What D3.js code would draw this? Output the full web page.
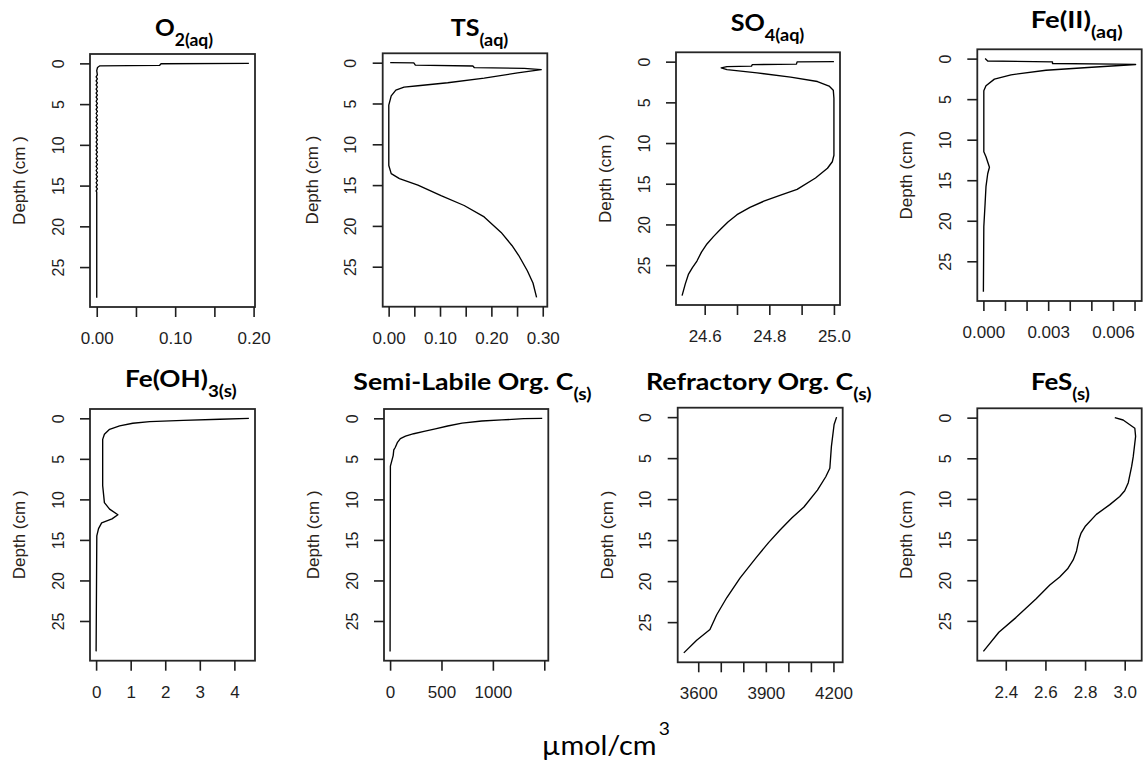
<!DOCTYPE html>
<html>
<head>
<meta charset="utf-8">
<script src="https://cdn.jsdelivr.net/npm/d3@7"></script>
<style>
body { margin: 0; background: #fff; }
svg { display: block; }
</style>
</head>
<body>
<div id="chart"></div>
<script>
// depth ticks shared by every panel
var depthTicks = [0, 5, 10, 15, 20, 25];

// O2 (aq) - the model output jitters around zero between 1.4 and 15.7 cm
var o2Depth = [0, 0.05, 0.25, 0.3, 0.5, 0.9,
  1.4, 1.65, 1.9, 2.15, 2.4, 2.65, 2.9, 3.15, 3.4, 3.65, 3.9, 4.15, 4.4, 4.65, 4.9, 5.15, 5.4, 5.65, 5.9, 6.15,
  6.4, 6.65, 6.9, 7.15, 7.4, 7.65, 7.9, 8.15, 8.4, 8.65, 8.9, 9.15, 9.4, 9.65, 9.9, 10.15, 10.4, 10.65, 10.9,
  11.15, 11.4, 11.65, 11.9, 12.15, 12.4, 12.65, 12.9, 13.15, 13.4, 13.65, 13.9, 14.15, 14.4, 14.65, 14.9, 15.15,
  15.4, 15.65, 15.8, 28.75];
var o2Conc = [0.194, 0.082, 0.080, 0.004, 0.001, 0,
  0.0008, -0.0008, 0.0008, -0.0008, 0.0008, -0.0008, 0.0008, -0.0008, 0.0008, -0.0008, 0.0008, -0.0008, 0.0008,
  -0.0008, 0.0008, -0.0008, 0.0008, -0.0008, 0.0008, -0.0008, 0.0008, -0.0008, 0.0008, -0.0008, 0.0008, -0.0008,
  0.0008, -0.0008, 0.0008, -0.0008, 0.0008, -0.0008, 0.0008, -0.0008, 0.0008, -0.0008, 0.0008, -0.0008, 0.0008,
  -0.0008, 0.0008, -0.0008, 0.0008, -0.0008, 0.0008, -0.0008, 0.0008, -0.0008, 0.0008, -0.0008, 0.0008, -0.0008,
  0.0008, -0.0008, 0.0008, -0.0008, 0.0008, -0.0008, 0, 0];
var o2Ticks = [0, 0.05, 0.1, 0.15, 0.2];
var o2Labels = [0, 0.1, 0.2];

// TS (aq)
var tsDepth = [0, 0.02, 0.29, 0.41, 0.61, 0.7, 0.85, 1.25, 1.9, 2.46, 2.83, 3.0, 3.36, 4.06, 5.2, 12.6, 13.6, 14.2,
  15.0, 16.3, 17.5, 18.9, 20.8, 22.4, 23.6, 25.5, 27.0, 28.75];
var tsConc = [0.003, 0.049, 0.052, 0.164, 0.167, 0.264, 0.297, 0.251, 0.186, 0.115, 0.057, 0.030, 0.014, 0.005, 0.0003,
  0.0003, 0.005, 0.021, 0.057, 0.102, 0.147, 0.186, 0.219, 0.240, 0.253, 0.270, 0.281, 0.288];
var tsTicks = [0, 0.05, 0.1, 0.15, 0.2, 0.25, 0.3];
var tsLabels = [0, 0.1, 0.2, 0.3];

// SO4 (aq)
var so4Depth = [0, 0.02, 0.3, 0.37, 0.55, 0.61, 0.77, 0.98, 1.38, 1.91, 2.44, 3.0, 3.5, 4.5, 11.5, 12.3, 13.1, 14.3,
  15.7, 16.4, 17.15, 17.9, 18.8, 19.7, 20.6, 21.5, 22.4, 23.4, 24.5, 25.3, 26.1, 27.3, 28.75];
var so4Conc = [25.0, 24.886, 24.884, 24.747, 24.745, 24.669, 24.651, 24.669, 24.762, 24.866, 24.949, 24.985, 24.998,
  25.0, 25.0, 24.995, 24.98, 24.943, 24.886, 24.835, 24.783, 24.740, 24.700, 24.672, 24.649, 24.627, 24.607, 24.590,
  24.576, 24.562, 24.550, 24.540, 24.530];
var so4Ticks = [24.6, 24.7, 24.8, 24.9, 25.0];
var so4Labels = [24.6, 24.8, 25.0];

// Fe(II) (aq)
var fe2Depth = [0, 0.29, 0.4, 0.6, 0.68, 0.72, 1.1, 1.43, 2.0, 2.53, 3.35, 3.96, 11.5, 12.1, 13.4, 14.2, 15.8, 17.85,
  20.7, 28.75];
var fe2Conc = [0.00008, 0.0002, 0.0032, 0.0032, 0.00615, 0.00705, 0.00484, 0.0029, 0.00128, 0.00051, 0.00012, 0.00002,
  0.00002, 0.00012, 0.00028, 0.0002, 0.00012, 0.00008, 0.00002, 0];
var fe2Ticks = [0, 0.001, 0.002, 0.003, 0.004, 0.005, 0.006, 0.007];
var fe2Labels = [0, 0.003, 0.006];

// Fe(OH)3 (s)
var feohDepth = [0, 0.12, 0.25, 0.41, 0.61, 0.94, 1.35, 1.97, 2.6, 8.3, 10.4, 11.2, 11.9, 12.4, 12.9, 13.6, 14.5, 28.75];
var feohConc = [4.42, 3.58, 2.52, 1.55, 1.06, 0.68, 0.39, 0.24, 0.19, 0.19, 0.24, 0.39, 0.63, 0.46, 0.16, 0.07, 0.02, 0];
var feohTicks = [0, 1, 2, 3, 4];
var feohLabels = [0, 1, 2, 3, 4];

// Semi-labile organic C (s)
var semiDepth = [0, 0.04, 0.2, 0.33, 0.6, 0.95, 1.3, 1.6, 1.9, 2.2, 2.5, 3.0, 3.6, 3.9, 4.6, 5.9, 28.75];
var semiConc = [1480, 1300, 1088, 892, 700, 560, 440, 330, 230, 150, 100, 70, 50, 36, 30, 3, 0];
var semiTicks = [0, 500, 1000, 1500];
var semiLabels = [0, 500, 1000];

// Refractory organic C (s)
var refDepth = [0, 0.9, 3.57, 6.24, 7.27, 8.9, 10.96, 12.3, 13.8, 15.3, 17.1, 19.6, 22.0, 24.1, 25.9, 27.2, 28.75];
var refConc = [4214, 4203, 4191, 4184, 4166, 4129, 4069, 4015, 3962, 3912, 3858, 3786, 3727, 3682, 3652, 3593, 3536];
var refTicks = [3600, 3700, 3800, 3900, 4000, 4100, 4200];
var refLabels = [3600, 3900, 4200];

// FeS (s)
var fesDepth = [0, 0.29, 1.3, 2.3, 4.8, 6.0, 8.0, 9.0, 9.7, 10.7, 11.9, 13.4, 14.2, 15.0, 16.4, 17.5, 18.6, 19.6, 20.6,
  22.3, 24.6, 26.4, 28.75];
var fesConc = [2.95, 2.992, 3.051, 3.055, 3.043, 3.035, 3.018, 3.0, 2.975, 2.925, 2.857, 2.8, 2.78, 2.769, 2.757, 2.740,
  2.712, 2.672, 2.622, 2.552, 2.451, 2.365, 2.287];
var fesTicks = [2.4, 2.6, 2.8, 3.0];
var fesLabels = [2.4, 2.6, 2.8, 3.0];

var titleMain = ["O", "TS", "SO", "Fe(II)", "Fe(OH)", "Semi-Labile Org. C", "Refractory Org. C", "FeS"];
var titleSub = ["2(aq)", "(aq)", "4(aq)", "(aq)", "3(s)", "(s)", "(s)", "(s)"];
var yLabel = "Depth (cm )";
var unitText = "\u00b5mol/cm";
var unitSup = "3";

var width = 1143;
var height = 761;

var panels = [
  {depth: o2Depth, conc: o2Conc, ticks: o2Ticks, labels: o2Labels, fmt: d3.format(".2f")},
  {depth: tsDepth, conc: tsConc, ticks: tsTicks, labels: tsLabels, fmt: d3.format(".2f")},
  {depth: so4Depth, conc: so4Conc, ticks: so4Ticks, labels: so4Labels, fmt: d3.format(".1f")},
  {depth: fe2Depth, conc: fe2Conc, ticks: fe2Ticks, labels: fe2Labels, fmt: d3.format(".3f")},
  {depth: feohDepth, conc: feohConc, ticks: feohTicks, labels: feohLabels, fmt: d3.format("d")},
  {depth: semiDepth, conc: semiConc, ticks: semiTicks, labels: semiLabels, fmt: d3.format("d")},
  {depth: refDepth, conc: refConc, ticks: refTicks, labels: refLabels, fmt: d3.format("d")},
  {depth: fesDepth, conc: fesConc, ticks: fesTicks, labels: fesLabels, fmt: d3.format(".1f")}
];

// plot boxes: left, top, width, height
var boxes = [
  [90, 54, 165, 253], [382.7, 53.3, 164.6, 253.4], [676, 52.3, 164, 252.7], [977.3, 49.3, 164.4, 251.7],
  [90, 409, 165, 251.7], [384, 409, 164.3, 251.7], [677.7, 407.7, 165, 254.6], [977.3, 408.3, 164.4, 252.4]
];
// titles: left, right, baseline
var titleBox = [
  [155, 213, 36], [450.7, 508.3, 36], [730.7, 804.3, 31], [1030.7, 1122.7, 28.3],
  [125, 236.7, 386.7], [353.3, 591.7, 390], [646, 871.7, 390], [1031, 1090, 390]
];

var svg = d3.select("#chart").append("svg")
  .attr("width", width)
  .attr("height", height);

function padded(a) {
  var e = d3.extent(a), r = e[1] - e[0];
  return [e[0] - 0.04 * r, e[1] + 0.04 * r];
}

panels.forEach(function(p, i) {
  var b = boxes[i];
  var x = d3.scaleLinear().domain(padded(p.conc)).range([b[0], b[0] + b[2]]);
  var y = d3.scaleLinear().domain(padded(p.depth)).range([b[1], b[1] + b[3]]);
  var g = svg.append("g");

  g.append("path")
    .datum(d3.zip(p.conc, p.depth))
    .attr("fill", "none")
    .attr("stroke", "#000")
    .attr("stroke-width", 1.35)
    .attr("stroke-linejoin", "round")
    .attr("d", d3.line().x(function(d) { return x(d[0]); }).y(function(d) { return y(d[1]); }));

  g.append("rect")
    .attr("x", b[0]).attr("y", b[1])
    .attr("width", b[2]).attr("height", b[3])
    .attr("fill", "none")
    .attr("stroke", "#262626")
    .attr("stroke-width", 1.8);

  var xa = g.append("g")
    .attr("transform", "translate(0," + (b[1] + b[3]) + ")")
    .call(d3.axisBottom(x)
      .tickValues(p.ticks)
      .tickSize(10)
      .tickPadding(15)
      .tickFormat(function(d) {
        return p.labels.some(function(l) { return Math.abs(l - d) < 1e-9; }) ? p.fmt(d) : "";
      }));
  xa.select(".domain").remove();
  xa.attr("font-size", 17).attr("font-family", "'Liberation Sans', Arial, sans-serif").attr("color", "#1e1e1e");
  xa.selectAll(".tick line").attr("stroke-width", 1.6);

  var ya = g.append("g")
    .attr("transform", "translate(" + b[0] + ",0)")
    .call(d3.axisLeft(y).tickValues(depthTicks).tickSize(10));
  ya.select(".domain").remove();
  ya.attr("font-size", 16).attr("font-family", "'Liberation Sans', Arial, sans-serif").attr("color", "#1e1e1e");
  ya.selectAll(".tick line").attr("stroke-width", 1.6);
  ya.selectAll(".tick text")
    .attr("x", 0)
    .attr("dy", "0.35em")
    .attr("text-anchor", "middle")
    .attr("transform", "translate(-32,0) rotate(-90)");

  g.append("text")
    .attr("transform", "translate(" + (b[0] - 71) + "," + (b[1] + b[3] / 2) + ") rotate(-90)")
    .attr("dy", "0.35em")
    .attr("text-anchor", "middle")
    .attr("font-family", "'Liberation Sans', Arial, sans-serif")
    .attr("font-size", 17)
    .attr("fill", "#2a2218")
    .text(yLabel);

  // title, stretched to the width it has in the figure
  var tb = titleBox[i];
  var tg = svg.append("g");
  var t = tg.append("text")
    .attr("font-family", "Lato, 'Open Sans', sans-serif")
    .attr("font-weight", "bold")
    .attr("font-size", 23)
    .attr("fill", "#000");
  t.append("tspan").text(titleMain[i]);
  t.append("tspan").attr("font-size", 16.5).attr("dy", 10).text(titleSub[i]);
  var bb = t.node().getBBox();
  var sx = (tb[1] - tb[0]) / bb.width;
  tg.attr("transform", "translate(" + (tb[0] - bb.x * sx) + "," + tb[2] + ") scale(" + sx + ",1)");
});

// shared unit label
var ug = svg.append("g");
var ut = ug.append("text")
  .attr("font-family", "Lato, 'Open Sans', sans-serif")
  .attr("font-size", 27)
  .attr("fill", "#000");
ut.append("tspan").text(unitText);
var uw = ut.node().getComputedTextLength();
var usx = 115 / uw;
ut.append("tspan").attr("font-size", 18).attr("dy", -20).attr("dx", 2).text(unitSup);
ug.attr("transform", "translate(541.7,755) scale(" + usx + ",1)");
</script>
</body>
</html>
